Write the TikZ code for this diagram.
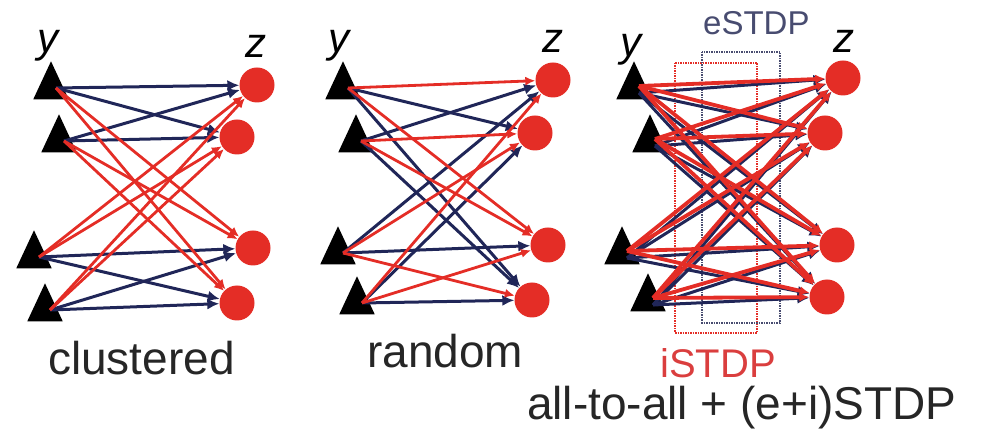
\documentclass[tikz,border=0pt]{standalone}
\usepackage{fontspec}
\setmainfont{Liberation Sans}
\usetikzlibrary{arrows.meta,shapes.geometric}
\definecolor{synred}{RGB}{228,45,38}
\definecolor{synblue}{RGB}{32,38,88}
\definecolor{estdp}{RGB}{72,76,112}
\definecolor{istdp}{RGB}{218,62,62}
\tikzset{
  pre/.style={isosceles triangle,isosceles triangle apex angle=50,shape border rotate=90,
    fill=black,inner sep=0pt,minimum width=34pt,minimum height=38pt},
  post/.style={circle,fill=synred,inner sep=0pt,minimum size=35pt},
  esyn/.style={draw=synblue,line width=3pt,-{Latex[length=12pt,width=11pt]}},
  isyn/.style={draw=synred,line width=2.8pt,-{Latex[length=10pt,width=9pt]}},
  lbl/.style={font=\fontsize{46}{50}\selectfont,anchor=base west,inner sep=0pt,text=black!85},
  var/.style={font=\fontsize{42}{46}\selectfont\itshape,anchor=base west,inner sep=0pt},
}
\begin{document}
\begin{tikzpicture}[x=1pt,y=-1pt]
  \useasboundingbox (0,0) rectangle (983,435);
  % clustered
  \foreach \n/\px/\py in {1/51/88,2/59/141,3/34/257,4/45/310} \node[pre] (cy\n) at (\px,\py) {};
  \foreach \n/\px/\py in {1/257/85,2/237/137,3/253/248,4/237/303} \node[post] (cz\n) at (\px,\py) {};
  \node[var] (cyl) at (37,53) {y};
  \node[var] (czl) at (245,58) {z};
  \foreach \i/\j in {1/1,1/2,2/1,2/2,3/3,3/4,4/3,4/4} \draw[esyn] ([xshift=5pt]cy\i.center) -- (cz\j);
  \foreach \i/\j in {1/3,1/4,2/3,2/4,3/1,3/2,4/1,4/2} \draw[isyn] ([xshift=5pt]cy\i.center) -- (cz\j);
  \node[lbl] (clab) at (48,375) {clustered};
  % random
  \foreach \n/\px/\py in {1/343/88,2/356/141,3/338/253,4/357/303} \node[pre] (ry\n) at (\px,\py) {};
  \foreach \n/\px/\py in {1/553/80,2/535/133,3/548/245,4/532/300} \node[post] (rz\n) at (\px,\py) {};
  \node[var] (ryl) at (328,53) {y};
  \node[var] (rzl) at (542,53) {z};
  \foreach \i/\j in {1/2,1/4,2/1,2/4,3/1,3/3,4/2,4/4} \draw[esyn] ([xshift=5pt]ry\i.center) -- (rz\j);
  \foreach \i/\j in {1/1,1/3,2/2,2/3,3/2,3/4,4/1,4/3} \draw[isyn] ([xshift=5pt]ry\i.center) -- (rz\j);
  \node[lbl] (rlab) at (367,368) {random};
  % all-to-all + (e+i)STDP
  \draw[synred,densely dotted,line width=1.5pt] (675,63) rectangle (757,333);
  \draw[estdp,densely dotted,line width=1.5pt] (702,52) rectangle (780,323);
  \foreach \n/\px/\py in {1/634/88,2/650/141,3/622/253,4/648/300} \node[pre] (ay\n) at (\px,\py) {};
  \foreach \n/\px/\py in {1/843/78,2/825/133,3/837/245,4/827/297} \node[post] (az\n) at (\px,\py) {};
  \node[var] (ayl) at (620,57) {y};
  \node[var] (azl) at (833,53) {z};
  \foreach \i in {1,...,4} \foreach \j in {1,...,4}
    \draw[esyn] ([xshift=5pt,yshift=-5pt]ay\i.center) -- (az\j);
  \foreach \i in {1,...,4} \foreach \j in {1,...,4}
    \draw[isyn,line width=3.8pt] ([xshift=5pt,yshift=2pt]ay\i.center) -- (az\j);
  \node[lbl,font=\fontsize{33}{36}\selectfont,text=estdp] (elab) at (703,35) {eSTDP};
  \node[lbl,font=\fontsize{40}{44}\selectfont,text=istdp] (ilab) at (660,378) {iSTDP};
  \node[lbl] (alab) at (527,420) {all-to-all + (e+i)STDP};
\end{tikzpicture}
\end{document}
